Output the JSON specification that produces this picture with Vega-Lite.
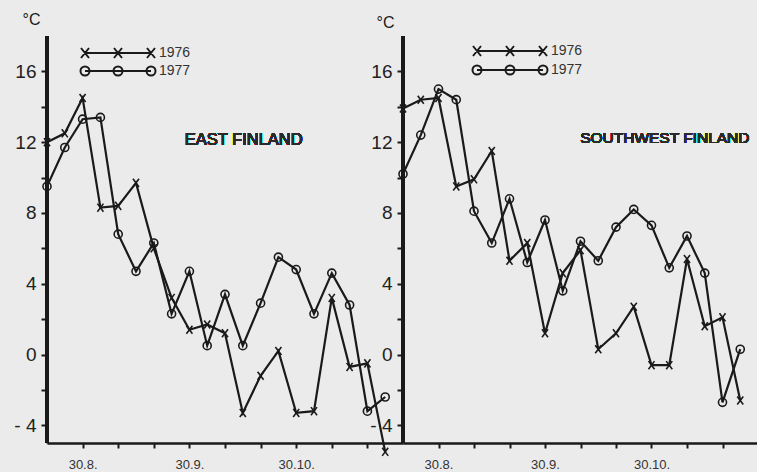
{
  "$schema": "https://vega.github.io/schema/vega-lite/v6.json",
  "background": "#ebebeb",
  "padding": {"left": 13, "top": 11, "right": 0, "bottom": 5},
  "config": {
    "view": {"stroke": null},
    "font": "Liberation Sans",
    "concat": {"spacing": 0},
    "axis": {"domainColor": "#1a1a1a", "domainWidth": 2.5, "domainOpacity": 1, "tickColor": "#1a1a1a", "tickWidth": 2, "grid": false}
  },
  "bounds": "flush",
  "spacing": 0,
  "datasets": {
    "temps": [
      {"region": "East Finland", "year": "1976", "pentad": 0, "temp": 12.0},
      {"region": "East Finland", "year": "1976", "pentad": 1, "temp": 12.5},
      {"region": "East Finland", "year": "1976", "pentad": 2, "temp": 14.5},
      {"region": "East Finland", "year": "1976", "pentad": 3, "temp": 8.3},
      {"region": "East Finland", "year": "1976", "pentad": 4, "temp": 8.4},
      {"region": "East Finland", "year": "1976", "pentad": 5, "temp": 9.7},
      {"region": "East Finland", "year": "1976", "pentad": 6, "temp": 6.0},
      {"region": "East Finland", "year": "1976", "pentad": 7, "temp": 3.2},
      {"region": "East Finland", "year": "1976", "pentad": 8, "temp": 1.4},
      {"region": "East Finland", "year": "1976", "pentad": 9, "temp": 1.7},
      {"region": "East Finland", "year": "1976", "pentad": 10, "temp": 1.2},
      {"region": "East Finland", "year": "1976", "pentad": 11, "temp": -3.3},
      {"region": "East Finland", "year": "1976", "pentad": 12, "temp": -1.2},
      {"region": "East Finland", "year": "1976", "pentad": 13, "temp": 0.2},
      {"region": "East Finland", "year": "1976", "pentad": 14, "temp": -3.3},
      {"region": "East Finland", "year": "1976", "pentad": 15, "temp": -3.2},
      {"region": "East Finland", "year": "1976", "pentad": 16, "temp": 3.2},
      {"region": "East Finland", "year": "1976", "pentad": 17, "temp": -0.7},
      {"region": "East Finland", "year": "1976", "pentad": 18, "temp": -0.5},
      {"region": "East Finland", "year": "1976", "pentad": 19, "temp": -5.5},
      {"region": "East Finland", "year": "1977", "pentad": 0, "temp": 9.5},
      {"region": "East Finland", "year": "1977", "pentad": 1, "temp": 11.7},
      {"region": "East Finland", "year": "1977", "pentad": 2, "temp": 13.3},
      {"region": "East Finland", "year": "1977", "pentad": 3, "temp": 13.4},
      {"region": "East Finland", "year": "1977", "pentad": 4, "temp": 6.8},
      {"region": "East Finland", "year": "1977", "pentad": 5, "temp": 4.7},
      {"region": "East Finland", "year": "1977", "pentad": 6, "temp": 6.3},
      {"region": "East Finland", "year": "1977", "pentad": 7, "temp": 2.3},
      {"region": "East Finland", "year": "1977", "pentad": 8, "temp": 4.7},
      {"region": "East Finland", "year": "1977", "pentad": 9, "temp": 0.5},
      {"region": "East Finland", "year": "1977", "pentad": 10, "temp": 3.4},
      {"region": "East Finland", "year": "1977", "pentad": 11, "temp": 0.5},
      {"region": "East Finland", "year": "1977", "pentad": 12, "temp": 2.9},
      {"region": "East Finland", "year": "1977", "pentad": 13, "temp": 5.5},
      {"region": "East Finland", "year": "1977", "pentad": 14, "temp": 4.8},
      {"region": "East Finland", "year": "1977", "pentad": 15, "temp": 2.3},
      {"region": "East Finland", "year": "1977", "pentad": 16, "temp": 4.6},
      {"region": "East Finland", "year": "1977", "pentad": 17, "temp": 2.8},
      {"region": "East Finland", "year": "1977", "pentad": 18, "temp": -3.2},
      {"region": "East Finland", "year": "1977", "pentad": 19, "temp": -2.4},
      {"region": "Southwest Finland", "year": "1976", "pentad": 0, "temp": 13.9},
      {"region": "Southwest Finland", "year": "1976", "pentad": 1, "temp": 14.4},
      {"region": "Southwest Finland", "year": "1976", "pentad": 2, "temp": 14.5},
      {"region": "Southwest Finland", "year": "1976", "pentad": 3, "temp": 9.5},
      {"region": "Southwest Finland", "year": "1976", "pentad": 4, "temp": 9.9},
      {"region": "Southwest Finland", "year": "1976", "pentad": 5, "temp": 11.5},
      {"region": "Southwest Finland", "year": "1976", "pentad": 6, "temp": 5.3},
      {"region": "Southwest Finland", "year": "1976", "pentad": 7, "temp": 6.3},
      {"region": "Southwest Finland", "year": "1976", "pentad": 8, "temp": 1.2},
      {"region": "Southwest Finland", "year": "1976", "pentad": 9, "temp": 4.6},
      {"region": "Southwest Finland", "year": "1976", "pentad": 10, "temp": 5.9},
      {"region": "Southwest Finland", "year": "1976", "pentad": 11, "temp": 0.3},
      {"region": "Southwest Finland", "year": "1976", "pentad": 12, "temp": 1.2},
      {"region": "Southwest Finland", "year": "1976", "pentad": 13, "temp": 2.7},
      {"region": "Southwest Finland", "year": "1976", "pentad": 14, "temp": -0.6},
      {"region": "Southwest Finland", "year": "1976", "pentad": 15, "temp": -0.6},
      {"region": "Southwest Finland", "year": "1976", "pentad": 16, "temp": 5.4},
      {"region": "Southwest Finland", "year": "1976", "pentad": 17, "temp": 1.6},
      {"region": "Southwest Finland", "year": "1976", "pentad": 18, "temp": 2.1},
      {"region": "Southwest Finland", "year": "1976", "pentad": 19, "temp": -2.6},
      {"region": "Southwest Finland", "year": "1977", "pentad": 0, "temp": 10.2},
      {"region": "Southwest Finland", "year": "1977", "pentad": 1, "temp": 12.4},
      {"region": "Southwest Finland", "year": "1977", "pentad": 2, "temp": 15.0},
      {"region": "Southwest Finland", "year": "1977", "pentad": 3, "temp": 14.4},
      {"region": "Southwest Finland", "year": "1977", "pentad": 4, "temp": 8.1},
      {"region": "Southwest Finland", "year": "1977", "pentad": 5, "temp": 6.3},
      {"region": "Southwest Finland", "year": "1977", "pentad": 6, "temp": 8.8},
      {"region": "Southwest Finland", "year": "1977", "pentad": 7, "temp": 5.2},
      {"region": "Southwest Finland", "year": "1977", "pentad": 8, "temp": 7.6},
      {"region": "Southwest Finland", "year": "1977", "pentad": 9, "temp": 3.6},
      {"region": "Southwest Finland", "year": "1977", "pentad": 10, "temp": 6.4},
      {"region": "Southwest Finland", "year": "1977", "pentad": 11, "temp": 5.3},
      {"region": "Southwest Finland", "year": "1977", "pentad": 12, "temp": 7.2},
      {"region": "Southwest Finland", "year": "1977", "pentad": 13, "temp": 8.2},
      {"region": "Southwest Finland", "year": "1977", "pentad": 14, "temp": 7.3},
      {"region": "Southwest Finland", "year": "1977", "pentad": 15, "temp": 4.9},
      {"region": "Southwest Finland", "year": "1977", "pentad": 16, "temp": 6.7},
      {"region": "Southwest Finland", "year": "1977", "pentad": 17, "temp": 4.6},
      {"region": "Southwest Finland", "year": "1977", "pentad": 18, "temp": -2.7},
      {"region": "Southwest Finland", "year": "1977", "pentad": 19, "temp": 0.3}
    ]
  },
  "data": {"name": "temps"},
  "hconcat": [
    {
      "width": 356,
      "height": 407,
      "transform": [{"filter": "datum.region == 'East Finland'"}],
      "layer": [
        {
          "mark": {"type": "rule", "color": "#1a1a1a", "strokeWidth": 2.8},
          "encoding": {
            "x": {"datum": 0, "type": "quantitative", "scale": {"domain": [0, 20], "nice": false, "zero": false}, "axis": null}
          }
        },
        {
          "mark": {"type": "line", "color": "#1a1a1a", "strokeWidth": 2.2},
          "encoding": {
            "x": {"field": "pentad", "type": "quantitative", "scale": {"domain": [0, 20], "nice": false, "zero": false},
              "axis": {"values": [2, 4, 6, 8, 10, 12, 14, 16, 18], "labelExpr": "datum.value == 2 ? '30.8.' : datum.value == 8 ? '30.9.' : datum.value == 14 ? '30.10.' : ''", "title": null, "tickSize": 5, "labelFontSize": 13, "labelColor": "#333", "labelPadding": 10, "labelFlush": false,
                "encode": {"ticks": {"update": {"y": {"value": -4}}}}}},
            "y": {"field": "temp", "type": "quantitative", "scale": {"domain": [-5, 18], "nice": false, "zero": false},
              "axis": {"values": [-4, -2, 0, 2, 4, 6, 8, 10, 12, 14, 16], "labelExpr": "datum.value % 4 == 0 ? (datum.value < 0 ? '- ' + abs(datum.value) : datum.label) : ''", "title": "°C", "titleAngle": 0, "titleX": -16, "titleY": -17, "titleAlign": "center", "titleBaseline": "middle", "titleFontSize": 16, "titleFontWeight": "normal", "titleColor": "#1a1a1a", "tickSize": 6, "labelFontSize": 19, "labelColor": "#222", "labelPadding": 5,
                "encode": {"ticks": {"update": {"x": {"value": 6}}}}}},
            "detail": {"field": "year"}
          }
        },
        {
          "mark": {"type": "point", "filled": false, "color": "#1a1a1a", "strokeWidth": 1.6, "size": 65, "opacity": 1},
          "encoding": {
            "x": {"field": "pentad", "type": "quantitative", "scale": {"domain": [0, 20], "nice": false, "zero": false}, "axis": null},
            "y": {"field": "temp", "type": "quantitative", "scale": {"domain": [-5, 18], "nice": false, "zero": false}, "axis": null},
            "shape": {"field": "year", "type": "nominal", "scale": {"domain": ["1976", "1977"], "range": ["M-0.75,-1L0.75,1M0.75,-1L-0.75,1", "circle"]}, "legend": null}
          }
        },
        {
          "transform": [{"filter": "datum.temp > 100"}],
          "mark": {"type": "point", "filled": false, "color": "#1a1a1a", "strokeWidth": 1.6},
          "encoding": {
            "x": {"field": "pentad", "type": "quantitative", "scale": {"domain": [0, 20], "nice": false, "zero": false}, "axis": null},
            "y": {"field": "temp", "type": "quantitative", "scale": {"domain": [-5, 18], "nice": false, "zero": false}, "axis": null},
            "shape": {"field": "year", "type": "nominal",
              "scale": {"domain": ["1976", "1977"], "range": [
                "M-6.6,0L6.6,0M-7.4,-1L-5.8,1M-5.8,-1L-7.4,1M-0.8,-1L0.8,1M0.8,-1L-0.8,1M5.8,-1L7.4,1M7.4,-1L5.8,1",
                "M-6.6,0L6.6,0M-7.5,0A0.9,0.9 0 1,0 -5.7,0A0.9,0.9 0 1,0 -7.5,0M-0.9,0A0.9,0.9 0 1,0 0.9,0A0.9,0.9 0 1,0 -0.9,0M5.7,0A0.9,0.9 0 1,0 7.5,0A0.9,0.9 0 1,0 5.7,0"
              ]},
              "legend": {"orient": "none", "legendX": 64, "legendY": 10, "title": null, "symbolSize": 100, "symbolStrokeWidth": 2, "symbolStrokeColor": "#1a1a1a", "symbolFillColor": "transparent", "symbolOpacity": 1, "labelFontSize": 14, "labelColor": "#333", "labelOffset": 34, "rowPadding": 0, "padding": 0}}
          }
        },
        {
          "mark": {"type": "text", "fontSize": 16.5, "color": "#2a2a2a", "align": "center", "baseline": "middle"},
          "encoding": {
            "x": {"datum": 11.05, "type": "quantitative", "axis": null},
            "y": {"datum": 12.1, "type": "quantitative", "axis": null},
            "text": {"value": "EAST FINLAND"}
          }
        }
      ],
      "resolve": {"scale": {"shape": "independent"}, "axis": {"x": "independent", "y": "independent"}}
    },
    {
      "width": 355,
      "height": 407,
      "transform": [{"filter": "datum.region == 'Southwest Finland'"}],
      "layer": [
        {
          "mark": {"type": "rule", "color": "#1a1a1a", "strokeWidth": 2.8},
          "encoding": {
            "x": {"datum": 0, "type": "quantitative", "scale": {"domain": [0, 20], "nice": false, "zero": false}, "axis": null}
          }
        },
        {
          "mark": {"type": "line", "color": "#1a1a1a", "strokeWidth": 2.2},
          "encoding": {
            "x": {"field": "pentad", "type": "quantitative", "scale": {"domain": [0, 20], "nice": false, "zero": false},
              "axis": {"values": [2, 4, 6, 8, 10, 12, 14, 16, 18], "labelExpr": "datum.value == 2 ? '30.8.' : datum.value == 8 ? '30.9.' : datum.value == 14 ? '30.10.' : ''", "title": null, "tickSize": 5, "labelFontSize": 13, "labelColor": "#333", "labelPadding": 10, "labelFlush": false,
                "encode": {"ticks": {"update": {"y": {"value": -4}}}}}},
            "y": {"field": "temp", "type": "quantitative", "scale": {"domain": [-5, 18], "nice": false, "zero": false},
              "axis": {"values": [-4, -2, 0, 2, 4, 6, 8, 10, 12, 14, 16], "labelExpr": "datum.value % 4 == 0 ? (datum.value < 0 ? '- ' + abs(datum.value) : datum.label) : ''", "title": "°C", "titleAngle": 0, "titleX": -18, "titleY": -14, "titleAlign": "center", "titleBaseline": "middle", "titleFontSize": 16, "titleFontWeight": "normal", "titleColor": "#1a1a1a", "tickSize": 6, "labelFontSize": 19, "labelColor": "#222", "labelPadding": 5,
                "encode": {"ticks": {"update": {"x": {"value": 6}}}}}},
            "detail": {"field": "year"}
          }
        },
        {
          "mark": {"type": "point", "filled": false, "color": "#1a1a1a", "strokeWidth": 1.6, "size": 65, "opacity": 1},
          "encoding": {
            "x": {"field": "pentad", "type": "quantitative", "scale": {"domain": [0, 20], "nice": false, "zero": false}, "axis": null},
            "y": {"field": "temp", "type": "quantitative", "scale": {"domain": [-5, 18], "nice": false, "zero": false}, "axis": null},
            "shape": {"field": "year", "type": "nominal", "scale": {"domain": ["1976", "1977"], "range": ["M-0.75,-1L0.75,1M0.75,-1L-0.75,1", "circle"]}, "legend": null}
          }
        },
        {
          "transform": [{"filter": "datum.temp > 100"}],
          "mark": {"type": "point", "filled": false, "color": "#1a1a1a", "strokeWidth": 1.6},
          "encoding": {
            "x": {"field": "pentad", "type": "quantitative", "scale": {"domain": [0, 20], "nice": false, "zero": false}, "axis": null},
            "y": {"field": "temp", "type": "quantitative", "scale": {"domain": [-5, 18], "nice": false, "zero": false}, "axis": null},
            "shape": {"field": "year", "type": "nominal",
              "scale": {"domain": ["1976", "1977"], "range": [
                "M-6.6,0L6.6,0M-7.4,-1L-5.8,1M-5.8,-1L-7.4,1M-0.8,-1L0.8,1M0.8,-1L-0.8,1M5.8,-1L7.4,1M7.4,-1L5.8,1",
                "M-6.6,0L6.6,0M-7.5,0A0.9,0.9 0 1,0 -5.7,0A0.9,0.9 0 1,0 -7.5,0M-0.9,0A0.9,0.9 0 1,0 0.9,0A0.9,0.9 0 1,0 -0.9,0M5.7,0A0.9,0.9 0 1,0 7.5,0A0.9,0.9 0 1,0 5.7,0"
              ]},
              "legend": {"orient": "none", "legendX": 100, "legendY": 8, "title": null, "symbolSize": 100, "symbolStrokeWidth": 2, "symbolStrokeColor": "#1a1a1a", "symbolFillColor": "transparent", "symbolOpacity": 1, "labelFontSize": 14, "labelColor": "#333", "labelOffset": 34, "rowPadding": 1, "padding": 0}}
          }
        },
        {
          "mark": {"type": "text", "fontSize": 15.5, "color": "#2a2a2a", "align": "center", "baseline": "middle"},
          "encoding": {
            "x": {"datum": 14.75, "type": "quantitative", "axis": null},
            "y": {"datum": 12.25, "type": "quantitative", "axis": null},
            "text": {"value": "SOUTHWEST FINLAND"}
          }
        }
      ],
      "resolve": {"scale": {"shape": "independent"}, "axis": {"x": "independent", "y": "independent"}}
    }
  ]
}
